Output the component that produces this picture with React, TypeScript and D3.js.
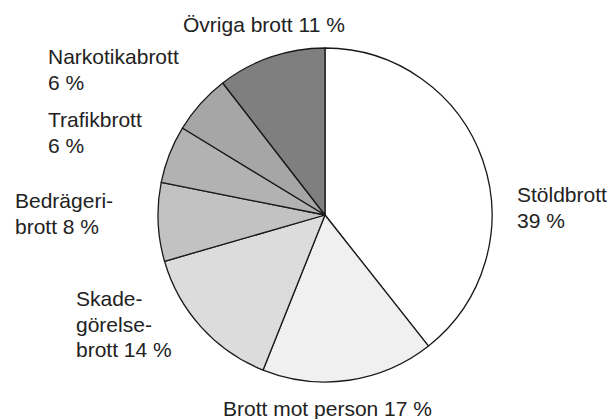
import {useEffect, useRef} from 'react';
import * as d3 from 'd3';

// categories, clockwise from 12 o'clock
const categories = ['Stöldbrott', 'Brott mot person', 'Skadegörelsebrott', 'Bedrägeribrott', 'Trafikbrott', 'Narkotikabrott', 'Övriga brott'];
// slice shares as measured from the angles in the picture
const shares = [39.4, 16.7, 14.5, 7.6, 5.6, 5.8, 10.5];
// label text (one entry per line)
const labelLines = [
  ['Stöldbrott', '39 %'],
  ['Brott mot person 17 %'],
  ['Skade-', 'görelse-', 'brott 14 %'],
  ['Bedrägeri-', 'brott 8 %'],
  ['Trafikbrott', '6 %'],
  ['Narkotikabrott', '6 %'],
  ['Övriga brott 11 %'],
];
const fills = ['#ffffff', '#f0f0f0', '#dcdcdc', '#c2c2c2', '#b2b2b2', '#a6a6a6', '#7f7f7f'];

// layout
const width = 609;
const height = 419;
const cx = 325;
const cy = 215;
const radius = 167;
const lineHeight = 25.5;
// label anchors: left x, first baseline y
const labelAnchor: [number, number][] = [
  [517, 202],
  [223, 416],
  [76, 306],
  [15, 208],
  [48, 127],
  [48, 64],
  [183, 32],
];

type Datum = {name: string, value: number, fill: string}

export default function App() {
  const ref = useRef<SVGSVGElement>(null);
  useEffect(() => {
    if (!ref.current) return;
    const svg = d3.select(ref.current);
    svg.selectAll('*').remove();

    const data: Datum[] = categories.map((name, i) => ({name, value: shares[i], fill: fills[i]}));
    const pie = d3.pie<Datum>().sort(null).value(d => d.value);
    const arc = d3.arc<d3.PieArcDatum<Datum>>().innerRadius(0).outerRadius(radius);

    // slices
    svg.append('g')
      .attr('transform', `translate(${cx},${cy})`)
      .selectAll('path')
      .data(pie(data))
      .enter()
      .append('path')
      .attr('d', arc)
      .attr('fill', d => d.data.fill)
      .attr('stroke', '#1a1a1a')
      .attr('stroke-width', 1.3)
      .attr('stroke-linejoin', 'round');

    // labels
    const labels = svg.append('g')
      .style('font-family', '"Liberation Sans", Arial, sans-serif')
      .style('font-size', '21px')
      .attr('fill', '#222');
    labelLines.forEach((lines, i) => {
      const [x, y] = labelAnchor[i];
      const t = labels.append('text').attr('x', x).attr('y', y);
      lines.forEach((line, j) => {
        t.append('tspan')
          .attr('x', x)
          .attr('y', y + j * lineHeight)
          .text(line);
      });
    });
  }, []);
  return <svg
    ref={ref}
    width={width}
    height={height}
    style={{position: 'absolute', left: 0, top: 0, background: '#fff'}}
  />;
}
